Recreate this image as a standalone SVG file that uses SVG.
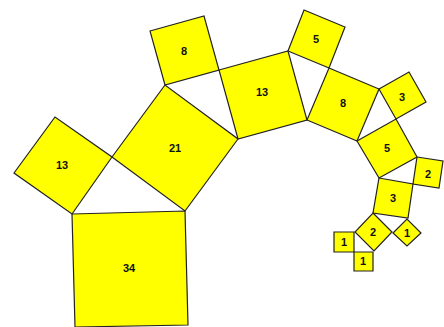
<svg xmlns="http://www.w3.org/2000/svg" width="444" height="327" viewBox="0 0 444 327">
<style>
.sq{fill:#ffff00;stroke:#222;stroke-width:1.2;stroke-linejoin:miter}
.lb{font-family:"Liberation Sans",Arial,sans-serif;font-weight:bold;font-size:11px;fill:#111;text-anchor:middle;dominant-baseline:central}
</style>
<rect width="444" height="327" fill="#fff"/>
<g id="sq34"><polygon class="sq" points="72,214 185,211 188,325 75,327"/><text class="lb" x="129" y="268">34</text></g>
<g id="sq13a"><polygon class="sq" points="14,173 55,117 112,157 72,214"/><text class="lb" x="62" y="165">13</text></g>
<g id="sq21"><polygon class="sq" points="112,157 185,211 238,139 165,85"/><text class="lb" x="175" y="148">21</text></g>
<g id="sq8a"><polygon class="sq" points="150,31 204,16 219,70 165,85"/><text class="lb" x="184" y="51">8</text></g>
<g id="sq13b"><polygon class="sq" points="219,70 288,51 307,120 238,139"/><text class="lb" x="262" y="92">13</text></g>
<g id="sq5a"><polygon class="sq" points="288,51 304,10 345,27 329,68"/><text class="lb" x="316" y="39">5</text></g>
<g id="sq8b"><polygon class="sq" points="307,120 329,68 379,89 357,141"/><text class="lb" x="343" y="103">8</text></g>
<g id="sq3a"><polygon class="sq" points="379,89 409,72 426,102 396,119"/><text class="lb" x="402" y="97">3</text></g>
<g id="sq5b"><polygon class="sq" points="357,141 396,119 417,157 379,178"/><text class="lb" x="387" y="148">5</text></g>
<g id="sq2a"><polygon class="sq" points="417,157 443,161 439,188 413,184"/><text class="lb" x="428" y="174">2</text></g>
<g id="sq3b"><polygon class="sq" points="379,178 413,184 408,218 373,213"/><text class="lb" x="393" y="198">3</text></g>
<g id="sq2b"><polygon class="sq" points="373,213 392,232 374,251 355,232"/><text class="lb" x="373" y="232">2</text></g>
<g id="sq1a"><polygon class="sq" points="393,233 407,219 421,233 407,246"/><text class="lb" x="407" y="233">1</text></g>
<g id="sq1b"><polygon class="sq" points="334,232 354,232 354,252 334,252"/><text class="lb" x="344" y="242">1</text></g>
<g id="sq1c"><polygon class="sq" points="354,252 373,252 373,271 354,271"/><text class="lb" x="363" y="261">1</text></g>
<g id="connectors"></g>
</svg>
